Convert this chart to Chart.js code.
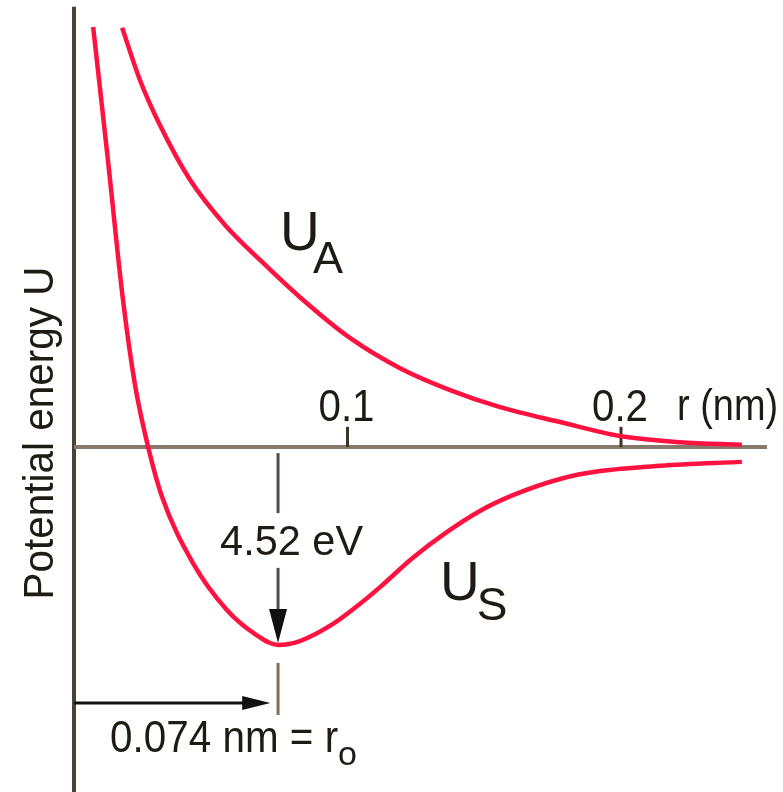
<!DOCTYPE html>
<html>
<head>
<meta charset="utf-8">
<style>
  html, body { margin: 0; padding: 0; background: #fff; }
  canvas { display: block; }
</style>
</head>
<body>
<canvas id="grafica" width="783" height="792"></canvas>
<script src="https://cdn.jsdelivr.net/npm/chart.js"></script>
<script>
    // separation r in nm, potential energy U in eV
    const rA = [0.0176, 0.0241, 0.0314, 0.0424, 0.0552, 0.0680, 0.0826, 0.1009, 0.1192, 0.1375, 0.1558, 0.1777, 0.1996, 0.2216, 0.2442];
    const uA = [9.57, 8.38, 7.35, 6.10, 5.07, 4.27, 3.42, 2.49, 1.80, 1.30, 0.91, 0.57, 0.25, 0.11, 0.05];

    const rS = [0.0070, 0.0124, 0.0179, 0.0223, 0.0271, 0.0322, 0.0435, 0.0559, 0.0662, 0.0746, 0.0826, 0.0947, 0.1046, 0.1119, 0.1239, 0.1364, 0.1484, 0.1605, 0.1777, 0.1923, 0.2143, 0.2442];
    const uS = [9.59, 6.55, 3.36, 1.42, 0, -1.14, -2.65, -3.72, -4.27, -4.52, -4.43, -4.04, -3.58, -3.20, -2.53, -1.94, -1.46, -1.10, -0.73, -0.55, -0.43, -0.34];

    const ticksX = [0.1, 0.2];
    const tickLabels = ['0.1', '0.2'];
    const r0 = 0.0746;      // equilibrium separation (marked 0.074 nm)
    const depth = -4.52;    // well depth in eV

    const rojo = '#ff1240';
    const fuente = '"Liberation Sans", Arial, Helvetica, sans-serif';

    function puntos(xs, ys) {
        return xs.map((x, i) => ({x: x, y: ys[i]}));
    }

    function linea(ctx, x1, y1, x2, y2, color, ancho) {
        ctx.beginPath();
        ctx.moveTo(x1, y1);
        ctx.lineTo(x2, y2);
        ctx.strokeStyle = color;
        ctx.lineWidth = ancho;
        ctx.stroke();
    }

    function texto(ctx, t, x, y, size, align, maxW) {
        ctx.font = size + 'px ' + fuente;
        ctx.textAlign = align || 'left';
        ctx.textBaseline = 'alphabetic';
        ctx.fillStyle = '#1e1a14';
        if (maxW) ctx.fillText(t, x, y, maxW); else ctx.fillText(t, x, y);
    }

    // axes go under the curves
    const ejes = {
        id: 'ejes',
        beforeDatasetsDraw(chart) {
            const ctx = chart.ctx;
            const sx = chart.scales.x, sy = chart.scales.y;
            ctx.save();
            const x0 = sx.getPixelForValue(0), y0 = sy.getPixelForValue(0);
            linea(ctx, x0, sy.getPixelForValue(10.05), x0, 792, '#4a4234', 4);
            linea(ctx, x0, y0, sx.getPixelForValue(0.2534), y0, '#857a6c', 4);
            ticksX.forEach((t, i) => {
                const px = sx.getPixelForValue(t);
                linea(ctx, px, sy.getPixelForValue(0.46), px, y0, '#3c3628', 3);
                texto(ctx, tickLabels[i], px - 1, y0 - 26, 44, 'center', 56);
            });
            texto(ctx, 'r (nm)', sx.getPixelForValue(0.2205), y0 - 27, 44, 'left', 101);
            ctx.restore();
        }
    };

    // labels and arrows on top
    const notas = {
        id: 'notas',
        afterDatasetsDraw(chart) {
            const ctx = chart.ctx;
            const sx = chart.scales.x, sy = chart.scales.y;
            const X = v => sx.getPixelForValue(v), Y = v => sy.getPixelForValue(v);
            ctx.save();

            // vertical 4.52 eV arrow
            const xr = X(r0);
            linea(ctx, xr, Y(-0.14), xr, Y(-1.51), '#5a4a4a', 3);
            linea(ctx, xr, Y(-2.76), xr, Y(-3.8), '#5a4a4a', 3);
            ctx.beginPath();
            ctx.moveTo(xr, Y(depth) - 2);
            ctx.lineTo(xr - 9, Y(-3.7));
            ctx.lineTo(xr + 9, Y(-3.7));
            ctx.closePath();
            ctx.fillStyle = '#111';
            ctx.fill();
            texto(ctx, '4.52 eV', X(0.0534), Y(-2.47), 42, 'left', 143);

            // r0 marker below the well
            linea(ctx, xr, Y(-4.93), xr, Y(-6.12), '#7f7256', 3);
            const yh = Y(-5.845);
            linea(ctx, X(0), yh, X(0.064), yh, '#111', 3);
            ctx.beginPath();
            ctx.moveTo(X(0.0718), yh);
            ctx.lineTo(X(0.0615), yh - 7);
            ctx.lineTo(X(0.0615), yh + 7);
            ctx.closePath();
            ctx.fillStyle = '#111';
            ctx.fill();
            texto(ctx, '0.074 nm = r', X(0.0132), Y(-6.96), 44, 'left', 228);
            texto(ctx, 'o', X(0.0965), Y(-7.25), 34, 'left', 20);

            // curve names
            texto(ctx, 'U', X(0.0753), Y(4.5), 55);
            texto(ctx, 'A', X(0.0874), Y(3.98), 45);
            texto(ctx, 'U', X(0.1338), Y(-3.49), 55);
            texto(ctx, 'S', X(0.1473), Y(-3.95), 46);

            // y axis title
            ctx.translate(53, 433);
            ctx.rotate(-Math.PI / 2);
            texto(ctx, 'Potential energy U', 0, 0, 42, 'center', 333);
            ctx.restore();
        }
    };

    const ctx = document.getElementById('grafica');
    new Chart(ctx, {
        type: 'scatter',
        data: {
            datasets: [{
                label: 'UA',
                data: puntos(rA, uA),
                showLine: true,
                borderColor: rojo,
                borderWidth: 4.5,
                pointRadius: 0,
                cubicInterpolationMode: 'monotone'
            }, {
                label: 'US',
                data: puntos(rS, uS),
                showLine: true,
                borderColor: rojo,
                borderWidth: 4.5,
                pointRadius: 0,
                cubicInterpolationMode: 'monotone'
            }]
        },
        options: {
            responsive: false,
            animation: false,
            layout: { padding: 0 },
            plugins: { legend: { display: false }, tooltip: { enabled: false } },
            scales: {
                x: { type: 'linear', min: -0.02706, max: 0.25923, display: false },
                y: { type: 'linear', min: -7.877, max: 10.205, display: false }
            }
        },
        plugins: [ejes, notas]
    });
</script>
</body>
</html>
